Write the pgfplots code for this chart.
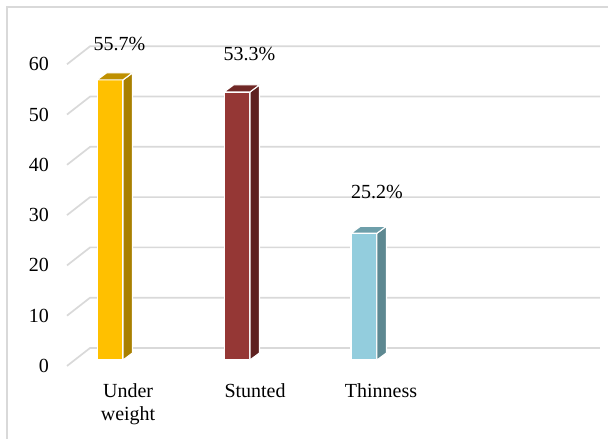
\documentclass[border=0pt]{standalone}
\usepackage{fontspec}
\setmainfont{Liberation Serif}
\usepackage{pgfplots}
\pgfplotsset{compat=1.18}
\definecolor{gridc}{HTML}{D9D9D9}
\definecolor{uf}{HTML}{FFC000}
\definecolor{us}{HTML}{A98000}
\definecolor{ut}{HTML}{BF9000}
\definecolor{sf}{HTML}{953735}
\definecolor{ss}{HTML}{5E2120}
\definecolor{st}{HTML}{702826}
\definecolor{tf}{HTML}{93CDDD}
\definecolor{ts}{HTML}{5D8891}
\definecolor{tt}{HTML}{6E9FAA}
\newcommand{\cfont}{\fontsize{20}{23}\selectfont}
\begin{document}
\begin{tikzpicture}
\begin{axis}[
  width=608pt, height=439pt, scale only axis,
  xmin=-0.866, xmax=3.921, ymin=-15.706, ymax=71.571,
  axis line style={draw=none},
  major tick length=0pt,
  /pgf/number format/assume math mode=true,
  xtick={1.142,2.134},
  xticklabels={Stunted,Thinness},
  xticklabel style={align=center, anchor=base, inner sep=0pt, yshift=41pt, font=\cfont},
  extra x ticks={0.142},
  extra x tick labels={Under\\weight},
  extra x tick style={xticklabel style={yshift=-23pt}},
  ytick={-1.19,8.81,18.81,28.81,38.81,48.81,58.81},
  yticklabels={0,10,20,30,40,50,60},
  yticklabel style={anchor=east, inner sep=0pt, xshift=49pt, font=\cfont},
  every node near coord/.append style={font=\cfont, anchor=base, inner sep=0pt},
]
% outer border
\addplot[draw=gridc, line width=1.5pt, mark=none] coordinates {(-0.811,-20) (-0.811,70.18) (4.5,70.18)};
% gridlines (front floor edge, back wall)
\foreach \v in {0,10,20,30,40,50,60}{
  \edef\temp{\noexpand\addplot[draw=gridc, line width=1.7pt, mark=none] coordinates {(-0.339,\v-1.19) (-0.157,\v+2.39) (3.858,\v+2.39)};}
  \temp
}
% Under weight
\addplot[fill=uf, draw=white, line width=1.1pt] coordinates {(-0.102,0) (0.102,0) (0.102,55.7) (-0.102,55.7)} -- cycle;
\addplot[fill=us, draw=white, line width=1.1pt] coordinates {(0.102,0) (0.177,1.4) (0.177,57.1) (0.102,55.7)} -- cycle;
\addplot[fill=ut, draw=white, line width=1.1pt] coordinates {(-0.102,55.7) (0.102,55.7) (0.177,57.1) (-0.027,57.1)} -- cycle;
% Stunted
\addplot[fill=sf, draw=white, line width=1.1pt] coordinates {(0.898,0) (1.102,0) (1.102,53.3) (0.898,53.3)} -- cycle;
\addplot[fill=ss, draw=white, line width=1.1pt] coordinates {(1.102,0) (1.177,1.4) (1.177,54.7) (1.102,53.3)} -- cycle;
\addplot[fill=st, draw=white, line width=1.1pt] coordinates {(0.898,53.3) (1.102,53.3) (1.177,54.7) (0.973,54.7)} -- cycle;
% Thinness
\addplot[fill=tf, draw=white, line width=1.1pt] coordinates {(1.898,0) (2.102,0) (2.102,25.2) (1.898,25.2)} -- cycle;
\addplot[fill=ts, draw=white, line width=1.1pt] coordinates {(2.102,0) (2.177,1.4) (2.177,26.6) (2.102,25.2)} -- cycle;
\addplot[fill=tt, draw=white, line width=1.1pt] coordinates {(1.898,25.2) (2.102,25.2) (2.177,26.6) (1.973,26.6)} -- cycle;
% value labels
\addplot[draw=none, mark=none, point meta=y, nodes near coords={\pgfmathprintnumber[fixed,fixed zerofill,precision=1]{\pgfplotspointmeta}\%}, every node near coord/.append style={xshift=9.5pt, yshift=29.8pt}] coordinates {(0,55.7)};
\addplot[draw=none, mark=none, point meta=y, nodes near coords={\pgfmathprintnumber[fixed,fixed zerofill,precision=1]{\pgfplotspointmeta}\%}, every node near coord/.append style={xshift=12.5pt, yshift=31.9pt}] coordinates {(1,53.3)};
\addplot[draw=none, mark=none, point meta=y, nodes near coords={\pgfmathprintnumber[fixed,fixed zerofill,precision=1]{\pgfplotspointmeta}\%}, every node near coord/.append style={xshift=13pt, yshift=35pt}] coordinates {(2,25.2)};
\end{axis}
\end{tikzpicture}
\end{document}
